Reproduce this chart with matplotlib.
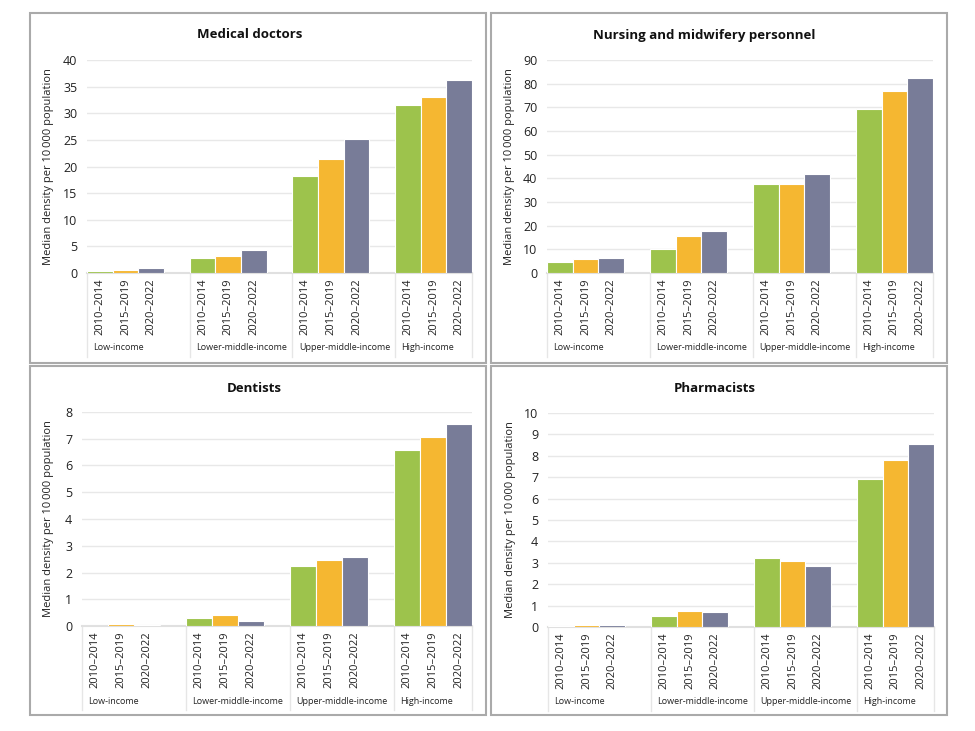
import matplotlib
matplotlib.use("Agg")
import matplotlib.pyplot as plt
from matplotlib.patches import Rectangle
import matplotlib.transforms as mtransforms

plt.rcParams['font.family'] = ['Open Sans', 'DejaVu Sans']

# data
income_groups = ["Low-income", "Lower-middle-income", "Upper-middle-income", "High-income"]
periods = ["2010\u20132014", "2015\u20132019", "2020\u20132022"]
titles = ["Medical doctors", "Nursing and midwifery personnel", "Dentists", "Pharmacists"]

doctors = [[0.4, 0.6, 0.9], [2.8, 3.1, 4.3], [18.2, 21.4, 25.1], [31.5, 33.0, 36.3]]
nurses = [[4.5, 6.1, 6.5], [10.3, 15.7, 17.6], [37.5, 37.5, 41.7], [69.3, 76.8, 82.5]]
dentists = [[0.0, 0.06, 0.04], [0.3, 0.4, 0.2], [2.23, 2.46, 2.57], [6.58, 7.05, 7.57]]
pharmacists = [[0.06, 0.09, 0.11], [0.5, 0.75, 0.7], [3.24, 3.1, 2.85], [6.92, 7.79, 8.57]]

ymax = [40, 90, 8, 10]
ystep = [5, 10, 1, 1]

colors = ["#9dc34c", "#f5b731", "#787c98"]

W, H = 975, 731
fig = plt.figure(figsize=(W / 100, H / 100), dpi=100)

# pixel layout of each panel: axes box (left, top, right, bottom), frame box, title pos, ylabel x
axes_px = [(87, 60, 472, 273), (547, 60, 933, 273), (82, 412, 472, 626), (548, 413, 934, 627)]
frame_px = [(30, 13, 486, 363), (491, 13, 947, 363), (30, 366, 486, 715), (491, 366, 947, 715)]
title_px = [(250, 35), (704, 35), (254, 388), (715, 388)]
ylab_x = [54, 515, 54, 516]

all_data = [doctors, nurses, dentists, pharmacists]

for k in range(4):
    l, t, r, b = axes_px[k]
    ax = fig.add_axes([l / W, (H - b) / H, (r - l) / W, (b - t) / H])
    data = all_data[k]
    ticks, ticklabels = [], []
    for g in range(4):
        for j in range(3):
            x = g * 4 + j
            ax.bar(x, data[g][j], width=1, align='edge', color=colors[j],
                   edgecolor='white', linewidth=0.8, zorder=3)
            ticks.append(x + 0.5)
            ticklabels.append(periods[j])
    ax.set_xlim(0, 15)
    ax.set_ylim(0, ymax[k])
    ax.set_yticks(range(0, ymax[k] + 1, ystep[k]))
    ax.set_xticks(ticks)
    ax.set_xticklabels(ticklabels, rotation=90, fontsize=8, color='#222222')
    ax.tick_params(axis='x', length=0, pad=4)
    ax.tick_params(axis='y', length=0, pad=7, labelsize=9, labelcolor='#222222')
    ax.grid(axis='y', color='#e8e8e8', linewidth=1, zorder=0)
    for s in ['top', 'right', 'left']:
        ax.spines[s].set_visible(False)
    ax.spines['bottom'].set_color('#e0e0e0')
    ax.spines['bottom'].set_linewidth(1.5)

    ax_h = b - t
    trans = mtransforms.blended_transform_factory(ax.transData, ax.transAxes)
    for g in range(4):
        ax.plot([g * 4, g * 4], [0, -84 / ax_h], transform=trans, color='#e6e6e6',
                linewidth=1, clip_on=False)
        ax.text(g * 4 + 0.25, -75 / ax_h, income_groups[g], transform=trans,
                fontsize=6.5, color='#222222', ha='left', va='center')
    ax.plot([15, 15], [0, -84 / ax_h], transform=trans, color='#e6e6e6',
            linewidth=1, clip_on=False)

    ax.set_ylabel("Median density per 10\u2009000 population", fontsize=8, color='#222222')
    ax.yaxis.set_label_coords((ylab_x[k] - l) / (r - l), 0.5)

    tx, ty = title_px[k]
    fig.text(tx / W, (H - ty) / H, titles[k], ha='center', va='center',
             fontsize=9.5, fontweight='bold', color='#111111')

    fl, ft, fr, fb = frame_px[k]
    fig.patches.append(Rectangle((fl / W, (H - fb) / H), (fr - fl) / W, (fb - ft) / H,
                                 transform=fig.transFigure, fill=False,
                                 edgecolor='#aaaaaa', linewidth=1.5))

fig.savefig("out.png", dpi=100, facecolor='white')
